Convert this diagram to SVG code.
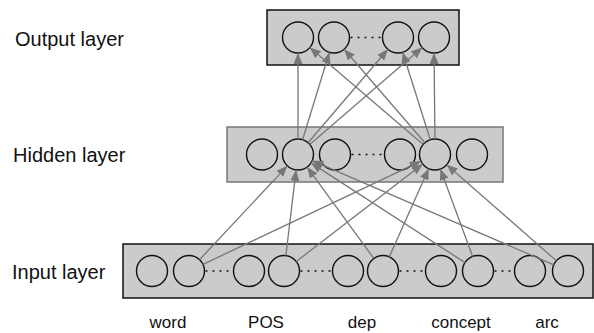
<svg xmlns="http://www.w3.org/2000/svg" width="594" height="333" viewBox="0 0 594 333">
  <style>
    .label { font-family: "Liberation Sans", Arial, Helvetica, sans-serif; font-size: 20px; fill: #111; }
    .feat { font-family: "Liberation Sans", Arial, Helvetica, sans-serif; font-size: 17px; fill: #111; text-anchor: middle; }
    .box { fill: #cbcbcb; stroke: #111; stroke-width: 1.5; }
    .box-soft { fill: #cbcbcb; stroke: #777; stroke-width: 1.5; }
    .unit { fill: none; stroke: #111; stroke-width: 1.4; }
    .dots { stroke: #111; stroke-width: 1.4; stroke-dasharray: 2 5; fill: none; }
    .edge { stroke: #777; stroke-width: 1.3; fill: none; marker-end: url(#arrow); }
  </style>
  <defs>
    <marker id="arrow" markerUnits="userSpaceOnUse" markerWidth="11" markerHeight="9" refX="11" refY="4.5" orient="auto">
      <path d="M0,0 L11,4.5 L0,9 z" fill="#777"/>
    </marker>
  </defs>

  <rect width="594" height="333" fill="#fff"/>

  <!-- layer titles -->
  <text class="label" x="15" y="46">Output layer</text>
  <text class="label" x="13" y="162">Hidden layer</text>
  <text class="label" x="12" y="279">Input layer</text>

  <!-- output layer -->
  <g id="output-layer">
    <rect class="box" x="267" y="10" width="192" height="55"/>
    <circle class="unit" cx="298" cy="37.5" r="15.5"/>
    <circle class="unit" cx="334" cy="37.5" r="15.5"/>
    <line class="dots" x1="350.5" y1="37.5" x2="382" y2="37.5"/>
    <circle class="unit" cx="398" cy="37.5" r="15.5"/>
    <circle class="unit" cx="434" cy="37.5" r="15.5"/>
  </g>

  <!-- hidden layer -->
  <g id="hidden-layer">
    <rect class="box-soft" x="227" y="127" width="276" height="55"/>
    <circle class="unit" cx="262" cy="154.5" r="15.5"/>
    <circle class="unit" cx="298" cy="154.5" r="15.5"/>
    <circle class="unit" cx="335" cy="154.5" r="15.5"/>
    <line class="dots" x1="351.5" y1="154.5" x2="384" y2="154.5"/>
    <circle class="unit" cx="400" cy="154.5" r="15.5"/>
    <circle class="unit" cx="435" cy="154.5" r="15.5"/>
    <circle class="unit" cx="472" cy="154.5" r="15.5"/>
  </g>

  <!-- input layer: word, POS, dep, concept, arc features -->
  <g id="input-layer">
    <rect class="box" x="123" y="244" width="470" height="54"/>
    <circle class="unit" cx="152" cy="271" r="15.5"/>
    <circle class="unit" cx="189" cy="271" r="15.5"/>
    <line class="dots" x1="205.5" y1="271" x2="233" y2="271"/>
    <circle class="unit" cx="249" cy="271" r="15.5"/>
    <circle class="unit" cx="284" cy="271" r="15.5"/>
    <line class="dots" x1="300.5" y1="271" x2="332" y2="271"/>
    <circle class="unit" cx="348" cy="271" r="15.5"/>
    <circle class="unit" cx="383" cy="271" r="15.5"/>
    <line class="dots" x1="399.5" y1="271" x2="425" y2="271"/>
    <circle class="unit" cx="441" cy="271" r="15.5"/>
    <circle class="unit" cx="478" cy="271" r="15.5"/>
    <line class="dots" x1="494.5" y1="271" x2="514" y2="271"/>
    <circle class="unit" cx="530" cy="271" r="15.5"/>
    <circle class="unit" cx="568" cy="271" r="15.5"/>
  </g>

  <!-- connections -->
  <g id="connectors">
    <!-- hidden to output -->
    <line class="edge" x1="298" y1="139" x2="298" y2="53"/>
    <line class="edge" x1="302.56" y1="139.69" x2="329.44" y2="52.31"/>
    <line class="edge" x1="308.07" y1="142.72" x2="387.93" y2="49.28"/>
    <line class="edge" x1="309.75" y1="144.39" x2="422.25" y2="47.61"/>
    <line class="edge" x1="423.21" y1="144.43" x2="309.79" y2="47.57"/>
    <line class="edge" x1="424.87" y1="142.77" x2="344.13" y2="49.23"/>
    <line class="edge" x1="430.33" y1="139.72" x2="402.67" y2="52.28"/>
    <line class="edge" x1="435" y1="139" x2="434" y2="53"/>
    <!-- input to hidden -->
    <line class="edge" x1="199.59" y1="259.68" x2="287.41" y2="165.82"/>
    <line class="edge" x1="203.01" y1="264.37" x2="420.99" y2="161.13"/>
    <line class="edge" x1="285.85" y1="255.61" x2="296.15" y2="169.89"/>
    <line class="edge" x1="296.27" y1="261.53" x2="422.73" y2="163.97"/>
    <line class="edge" x1="373.86" y1="258.48" x2="307.14" y2="167.02"/>
    <line class="edge" x1="389.32" y1="256.85" x2="428.68" y2="168.65"/>
    <line class="edge" x1="464.99" y1="262.58" x2="311.01" y2="162.92"/>
    <line class="edge" x1="472.63" y1="256.46" x2="440.37" y2="169.04"/>
    <line class="edge" x1="553.77" y1="264.86" x2="312.23" y2="160.64"/>
    <line class="edge" x1="556.34" y1="260.79" x2="446.66" y2="164.71"/>
  </g>

  <!-- feature names -->
  <text class="feat" x="168" y="328">word</text>
  <text class="feat" x="266" y="328">POS</text>
  <text class="feat" x="362" y="328">dep</text>
  <text class="feat" x="461" y="328">concept</text>
  <text class="feat" x="547" y="328">arc</text>
</svg>
